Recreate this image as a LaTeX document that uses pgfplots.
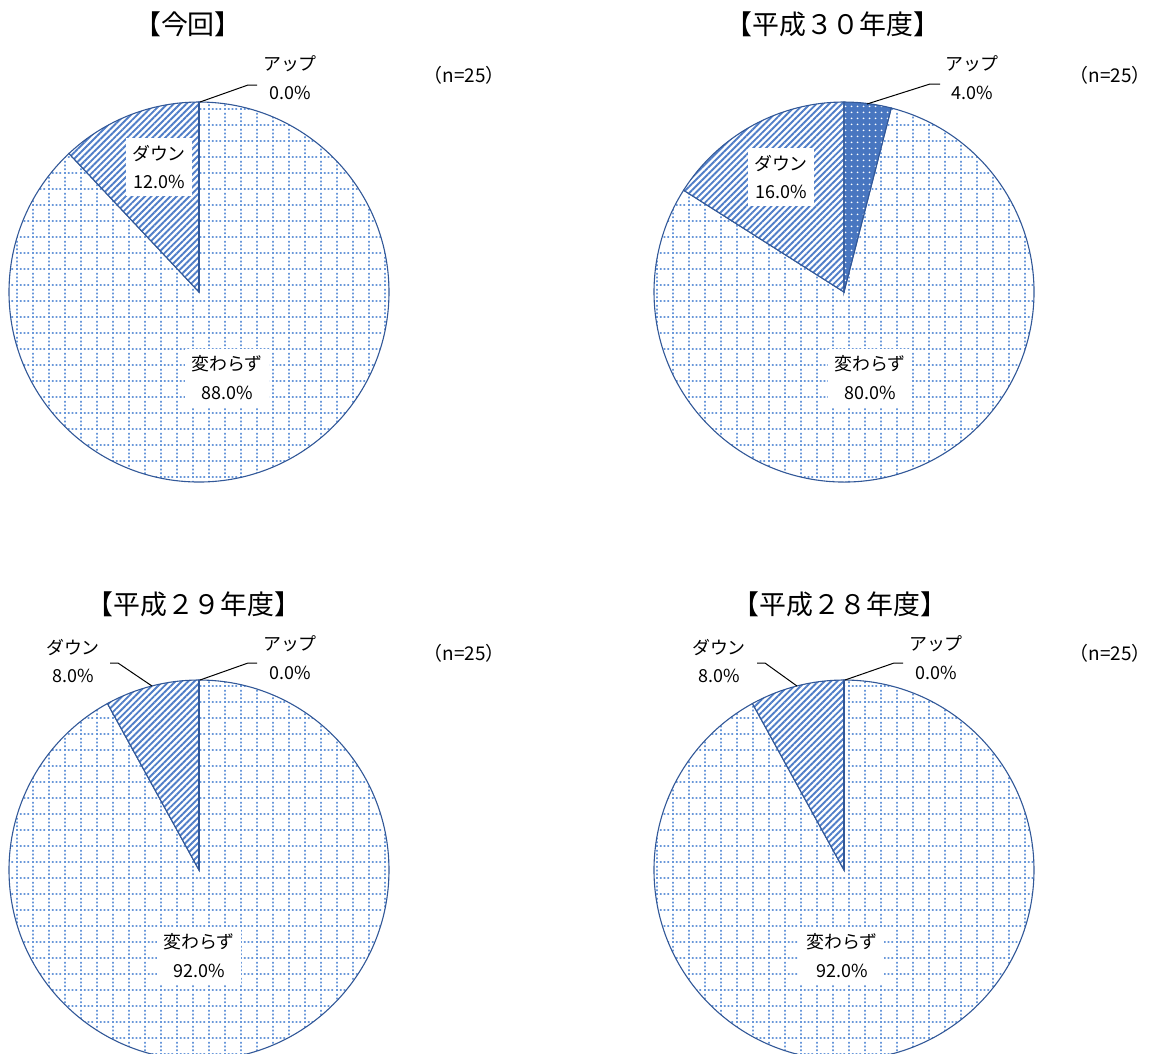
\documentclass[border=0pt]{standalone}
\usepackage{fontspec}
\setmainfont{Noto Sans CJK JP}
\usepackage{pgfplots}
\pgfplotsset{compat=1.18}
\usetikzlibrary{patterns,patterns.meta}
\definecolor{outl}{RGB}{50,88,152}
\definecolor{stripe}{RGB}{80,126,200}
\definecolor{upfill}{RGB}{72,118,192}
\definecolor{gridc}{RGB}{105,152,218}

\tikzdeclarepattern{
  name=dotgrid,
  type=colored,
  bottom left={(0bp,0bp)},
  top right={(16bp,16bp)},
  tile size={(16bp,16bp)},
  code={
    \fill[gridc] (0bp,0bp) rectangle (2bp,2bp);
    \fill[gridc] (4bp,0bp) rectangle (6bp,2bp);
    \fill[gridc] (8bp,0bp) rectangle (10bp,2bp);
    \fill[gridc] (12bp,0bp) rectangle (14bp,2bp);
    \fill[gridc] (0bp,4bp) rectangle (2bp,6bp);
    \fill[gridc] (0bp,8bp) rectangle (2bp,10bp);
    \fill[gridc] (0bp,12bp) rectangle (2bp,14bp);
  }
}

\newcommand{\lab}{\fontsize{18}{29}\selectfont}
\newcommand{\nn}{\fontsize{19}{22}\selectfont}
\newcommand{\ttl}{\fontsize{27}{30}\selectfont}

% #1 cx, #2 cy, #3 アップ, #4 変わらず, #5 ダウン (percent)
\newcommand{\pie}[5]{%
  \draw[draw=outl, line width=1.1bp, preaction={fill=white}, pattern=dotgrid]
    (#1,#2) -- ++({90-3.6*#3}:190bp)
    arc[start angle={90-3.6*#3}, end angle={90-3.6*(#3+#4)}, radius=190bp] -- cycle;
  \draw[draw=outl, line width=1.1bp, preaction={fill=white},
        pattern={Lines[angle=45, distance=4.5bp, line width=1.9bp]}, pattern color=stripe]
    (#1,#2) -- ++({90-3.6*(#3+#4)}:190bp)
    arc[start angle={90-3.6*(#3+#4)}, end angle=-270, radius=190bp] -- cycle;
  \draw[draw=outl, line width=1.1bp, preaction={fill=upfill},
        pattern={Dots[distance=6bp, radius=1.1bp]}, pattern color=white]
    (#1,#2) -- ++(90:190bp)
    arc[start angle=90, end angle={90-3.6*#3}, radius=190bp] -- cycle;
}

\begin{document}
\begin{tikzpicture}
\useasboundingbox (0,0) rectangle (1159bp,-1054bp);
\begin{axis}[
  at={(0,0)}, anchor=north west,
  width=1159bp, height=1054bp, scale only axis,
  xmin=0, xmax=1159, ymin=0, ymax=1054, y dir=reverse,
  hide axis,
]
% pies: centre x, centre y, アップ, 変わらず, ダウン
\pie{199}{292}{0.0}{88.0}{12.0}
\pie{844}{292}{4.0}{80.0}{16.0}
\pie{199}{870}{0.0}{92.0}{8.0}
\pie{844}{870}{0.0}{92.0}{8.0}

% titles
\node[font=\ttl] at (188,24) {【今回】};
\node[font=\ttl] at (833,24) {【平成３０年度】};
\node[font=\ttl] at (194,604) {【平成２９年度】};
\node[font=\ttl] at (840,604) {【平成２８年度】};

% n
\node[font=\nn] at (464,75) {（n=25）};
\node[font=\nn] at (1110,75) {（n=25）};
\node[font=\nn] at (464,653) {（n=25）};
\node[font=\nn] at (1110,653) {（n=25）};

% leader lines
\draw[black, line width=1bp] (200,102) -- (248,85) -- (257,85);
\draw[black, line width=1bp] (867,104) -- (930,84) -- (940,84);
\draw[black, line width=1bp] (200,680) -- (248,663) -- (257,663);
\draw[black, line width=1bp] (845,680) -- (894,663) -- (903,663);
\draw[black, line width=1bp] (152,686) -- (118,663) -- (110,663);
\draw[black, line width=1bp] (797,686) -- (765,663) -- (757,663);

% labels pie 1
\node[font=\lab, align=center] at (290,78) {アップ\\0.0\%};
\node[font=\lab, align=center, fill=white, inner xsep=6bp, inner ysep=7bp] at (159,167) {ダウン\\12.0\%};
\node[font=\lab, align=center, fill=white, inner xsep=6bp, inner ysep=7bp] at (227,378) {変わらず\\88.0\%};
% labels pie 2
\node[font=\lab, align=center] at (972,78) {アップ\\4.0\%};
\node[font=\lab, align=center, fill=white, inner xsep=6bp, inner ysep=7bp] at (781,177) {ダウン\\16.0\%};
\node[font=\lab, align=center, fill=white, inner xsep=6bp, inner ysep=7bp] at (870,378) {変わらず\\80.0\%};
% labels pie 3
\node[font=\lab, align=center] at (290,658) {アップ\\0.0\%};
\node[font=\lab, align=center] at (73,661) {ダウン\\8.0\%};
\node[font=\lab, align=center, fill=white, inner xsep=6bp, inner ysep=7bp] at (199,956) {変わらず\\92.0\%};
% labels pie 4
\node[font=\lab, align=center] at (936,658) {アップ\\0.0\%};
\node[font=\lab, align=center] at (719,661) {ダウン\\8.0\%};
\node[font=\lab, align=center, fill=white, inner xsep=6bp, inner ysep=7bp] at (842,956) {変わらず\\92.0\%};
\end{axis}
\end{tikzpicture}
\end{document}
